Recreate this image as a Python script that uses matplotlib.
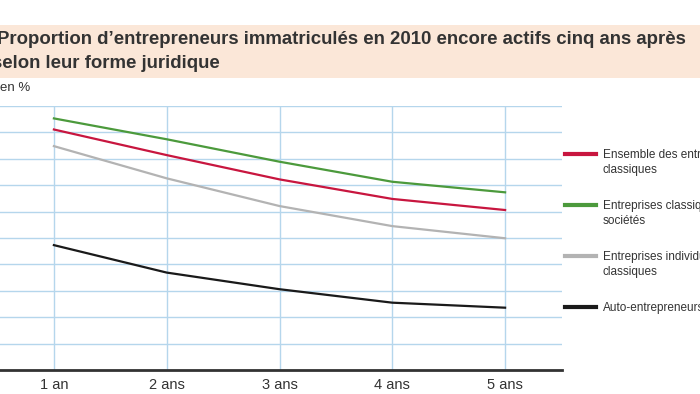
import matplotlib
matplotlib.use("Agg")
import matplotlib.pyplot as plt
from matplotlib.patches import Rectangle

# Data (en %)
years = ["1 an", "2 ans", "3 ans", "4 ans", "5 ans"]
ensemble = [91.1, 81.4, 72.2, 64.8, 60.6]
societes = [95.3, 87.4, 78.9, 71.3, 67.3]
individuelles = [84.8, 72.6, 62.1, 54.5, 49.9]
auto_entrepreneurs = [47.3, 36.9, 30.6, 25.5, 23.6]

series = [
    (ensemble, "Ensemble des entreprises", "classiques", "#c8163f"),
    (societes, "Entreprises classiques :", "sociétés", "#4c9a3c"),
    (individuelles, "Entreprises individuelles", "classiques", "#b3b3b3"),
    (auto_entrepreneurs, "Auto-entrepreneurs", None, "#1a1a1a"),
]

FONT = ["Liberation Sans Narrow", "Liberation Sans", "DejaVu Sans"]
plt.rcParams["font.family"] = FONT

fig = plt.figure(figsize=(7, 3.94), dpi=100)

# Peach title band
fig.patches.append(Rectangle((0, 1 - 78 / 394), 1, 53 / 394, transform=fig.transFigure,
                             facecolor="#fbe7d8", edgecolor="none", zorder=0))
fig.text(-0.004, 1 - 39 / 394, "Proportion d\u2019entrepreneurs immatriculés en 2010 encore actifs cinq ans après",
         fontsize=13.4, fontweight="bold", color="#333333", va="center", ha="left")
fig.text(-0.011, 1 - 63 / 394, "selon leur forme juridique",
         fontsize=13.4, fontweight="bold", color="#333333", va="center", ha="left")
fig.text(0.0, 1 - 88 / 394, "en %", fontsize=9.5, color="#333333", va="center", ha="left")

ax = fig.add_axes([-2.5 / 700, 24 / 394, 564 / 700, 264 / 394])
x = list(range(1, len(years) + 1))
for vals, first, second, color in series:
    ax.plot(x, vals, color=color, linewidth=1.6, label=first)

ax.set_xlim(0.5, 5.5)
ax.set_ylim(0, 100)
ax.set_xticks(x)
ax.set_xticklabels(years, fontsize=10.5, color="#333333")
ax.set_yticks(range(0, 101, 10))
ax.tick_params(axis="y", left=False, labelleft=False)
ax.tick_params(axis="x", length=0, pad=6)
ax.grid(True, color="#b5d6ec", linewidth=1.0)
ax.set_axisbelow(True)
for side in ["top", "right", "left"]:
    ax.spines[side].set_visible(False)
ax.spines["bottom"].set_color("#333333")
ax.spines["bottom"].set_linewidth(2)

leg = ax.legend(loc="upper left", bbox_to_anchor=(565 / 700, 1 - 149 / 394),
                bbox_transform=fig.transFigure, frameon=False, fontsize=8.5,
                handlelength=2.6, handletextpad=0.6, labelspacing=3.3,
                borderaxespad=0, borderpad=0)
for line in leg.get_lines():
    line.set_linewidth(3)
for txt, (vals, first, second, color) in zip(leg.get_texts(), series):
    txt.set_color("#333333")
    if second:
        ann = ax.annotate(second, xy=(0, 0), xycoords=txt, xytext=(0, -2),
                          textcoords="offset points", va="top", ha="left",
                          fontsize=8.5, color="#333333", annotation_clip=False)
        ann.set_zorder(10)

fig.savefig("out.png", dpi=100)
